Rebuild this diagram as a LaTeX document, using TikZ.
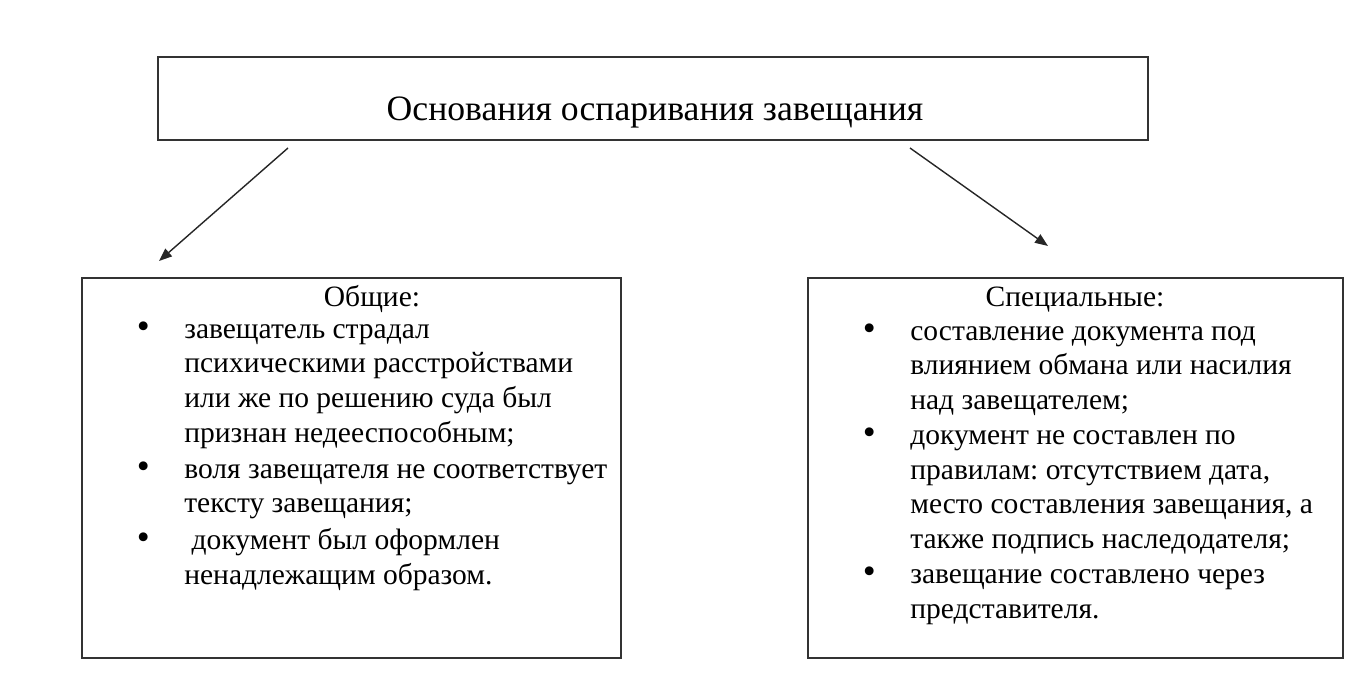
\documentclass[tikz,border=0pt]{standalone}
\usepackage{fontspec}
\setmainfont{Liberation Serif}
\usepackage{array}
\usetikzlibrary{arrows.meta}
\frenchspacing

\newcommand{\itemdot}{{\fontsize{21}{19.7}\selectfont\textbullet}}

\begin{document}
\begin{tikzpicture}[x=0.02cm, y=-0.02cm,
    box/.style={draw=black!80, line width=1pt, rectangle, inner sep=0pt},
    list/.style={anchor=base west, inner sep=0pt, font=\fontsize{16.8}{19.8}\selectfont},
    head/.style={anchor=base, inner sep=0pt, font=\fontsize{16.8}{19.8}\selectfont},
    arr/.style={-{Triangle[length=0.26cm, width=0.2cm]}, line width=0.8pt, draw=black!85}]
\useasboundingbox (0,0) rectangle (1366,699);

\node[box, minimum width=19.8cm, minimum height=1.66cm] (top) at (653, 98.5) {};
\node[anchor=base, inner sep=0pt, font=\fontsize{20.3}{22}\selectfont] (title) at (655, 121) {Основания оспаривания завещания};

\node[box, minimum width=10.78cm, minimum height=7.6cm] (gen) at (351.5, 468) {};
\node[box, minimum width=10.7cm, minimum height=7.6cm] (spec) at (1075.5, 468) {};

\node[head] (genhead) at (372, 307) {Общие:};
\node[head] (spechead) at (1075, 307) {Специальные:};

\node[list] (genlist) at (136.5, 338) {%
  \begin{tabular}[t]{@{}p{0.95cm}@{}l@{}}
  \itemdot & завещатель страдал\\
  & психическими расстройствами\\
  & или же по решению суда был\\
  & признан недееспособным;\\[0.02cm]
  \itemdot & воля завещателя не соответствует\\
  & тексту завещания;\\[0.04cm]
  \itemdot & \ документ был оформлен\\
  & ненадлежащим образом.
  \end{tabular}};

\node[list] (speclist) at (862.5, 340) {%
  \begin{tabular}[t]{@{}p{0.95cm}@{}l@{}}
  \itemdot & составление документа под\\
  & влиянием обмана или насилия\\
  & над завещателем;\\
  \itemdot & документ не составлен по\\
  & правилам: отсутствием дата,\\
  & место составления завещания, а\\
  & также подпись наследодателя;\\
  \itemdot & завещание составлено через\\
  & представителя.
  \end{tabular}};

\coordinate (ltail) at (288, 148);
\coordinate (lhead) at (159, 261);
\coordinate (rtail) at (910, 148);
\coordinate (rhead) at (1048, 246);
\draw[arr] (ltail) -- (lhead);
\draw[arr] (rtail) -- (rhead);
\end{tikzpicture}
\end{document}
